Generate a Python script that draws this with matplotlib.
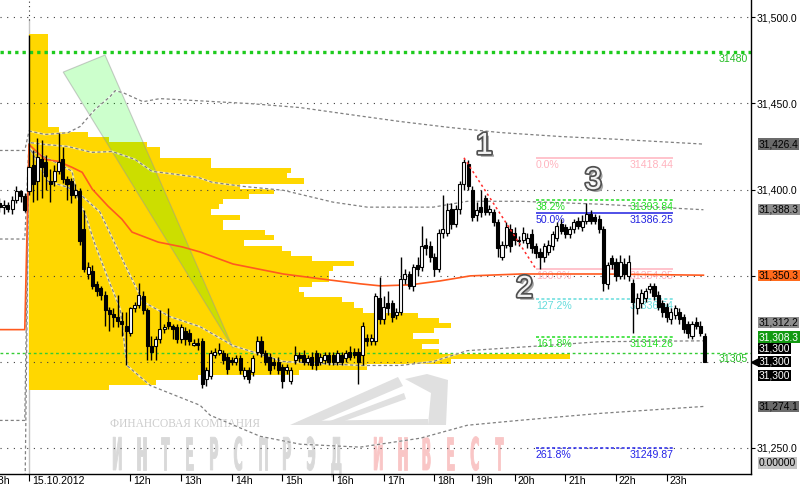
import numpy as np
import matplotlib
matplotlib.use("Agg")
import matplotlib.pyplot as plt
import matplotlib.patheffects as pe
from matplotlib import transforms
from matplotlib.patches import Polygon, PathPatch
from matplotlib.textpath import TextPath
from matplotlib.font_manager import FontProperties

plt.rcParams['font.family'] = ['Liberation Sans', 'DejaVu Sans']

# 5-minute candles, bar index -7 = last bars of previous session, 0 = 10:00 on 15.10.2012
first_bar = -7
opens = [31392, 31390, 31391, 31389, 31394, 31399, 31396,
         31399, 31414, 31405, 31418, 31416, 31405, 31405, 31411, 31418, 31406,
         31405, 31397, 31399, 31377, 31351, 31353, 31345, 31343, 31339, 31330,
         31328, 31326, 31324, 31321, 31317, 31331, 31333, 31338, 31330, 31309,
         31309, 31313, 31319, 31323, 31321, 31320, 31313, 31318, 31317, 31310,
         31311, 31312, 31290, 31292, 31304, 31305, 31305, 31303, 31301, 31300,
         31302, 31292, 31295, 31294, 31306, 31312, 31305, 31303, 31300, 31300,
         31297, 31295, 31289, 31301, 31304, 31304, 31300, 31303, 31305, 31300,
         31301, 31304, 31304, 31300, 31304, 31302, 31306, 31306, 31306, 31304,
         31314, 31312, 31312, 31337, 31325, 31334, 31334, 31327, 31329, 31348,
         31351, 31344, 31356, 31355, 31368, 31367, 31361, 31354, 31375, 31375,
         31389, 31380, 31389, 31403, 31415, 31400, 31385, 31390, 31395, 31387,
         31387, 31381, 31361, 31368, 31377, 31375, 31371, 31371, 31369, 31374,
         31367, 31364, 31361, 31364, 31367, 31372, 31380, 31378, 31374, 31377,
         31382, 31378, 31382, 31386, 31384, 31383, 31377, 31345, 31360, 31358,
         31350, 31357, 31350, 31346, 31331, 31334, 31337, 31342, 31344, 31339,
         31334, 31332, 31325, 31327, 31329, 31326, 31322, 31315, 31323, 31321,
         31315]
highs = [31395, 31394, 31393, 31396, 31402, 31400, 31398,
         31490, 31423, 31430, 31429, 31420, 31412, 31414, 31433, 31425, 31408,
         31407, 31403, 31401, 31388, 31358, 31356, 31347, 31344, 31341, 31332,
         31331, 31339, 31329, 31329, 31332, 31335, 31346, 31341, 31331, 31315,
         31315, 31330, 31322, 31331, 31322, 31322, 31322, 31320, 31319, 31313,
         31314, 31314, 31297, 31307, 31308, 31311, 31307, 31305, 31303, 31304,
         31304, 31297, 31297, 31304, 31315, 31315, 31307, 31305, 31302, 31303,
         31299, 31299, 31297, 31309, 31306, 31307, 31304, 31306, 31307, 31305,
         31306, 31306, 31306, 31307, 31306, 31307, 31309, 31308, 31308, 31323,
         31316, 31316, 31340, 31349, 31338, 31341, 31336, 31331, 31361, 31354,
         31353, 31357, 31361, 31379, 31372, 31370, 31363, 31377, 31397, 31392,
         31392, 31391, 31405, 31418, 31417, 31402, 31393, 31400, 31397, 31391,
         31389, 31383, 31370, 31381, 31380, 31378, 31373, 31378, 31375, 31377,
         31369, 31366, 31369, 31371, 31376, 31381, 31383, 31380, 31379, 31383,
         31384, 31385, 31392, 31388, 31386, 31385, 31379, 31358, 31362, 31360,
         31362, 31360, 31362, 31348, 31340, 31342, 31343, 31346, 31346, 31341,
         31336, 31334, 31331, 31333, 31331, 31328, 31324, 31324, 31326, 31324,
         31317]
lows = [31387, 31386, 31387, 31386, 31392, 31393, 31387,
        31397, 31393, 31394, 31395, 31400, 31393, 31402, 31409, 31404, 31394,
        31392, 31395, 31368, 31352, 31348, 31342, 31338, 31336, 31321, 31318,
        31320, 31320, 31315, 31298, 31315, 31329, 31331, 31328, 31301, 31301,
        31301, 31311, 31317, 31319, 31313, 31311, 31311, 31310, 31310, 31309,
        31307, 31285, 31286, 31290, 31302, 31304, 31299, 31293, 31298, 31298,
        31293, 31290, 31288, 31292, 31304, 31303, 31298, 31293, 31296, 31293,
        31285, 31293, 31287, 31299, 31300, 31298, 31298, 31296, 31295, 31298,
        31299, 31298, 31298, 31298, 31298, 31300, 31301, 31302, 31287, 31298,
        31309, 31310, 31310, 31322, 31322, 31327, 31323, 31325, 31327, 31345,
        31342, 31341, 31350, 31353, 31362, 31358, 31350, 31352, 31372, 31373,
        31377, 31378, 31386, 31400, 31400, 31382, 31382, 31384, 31385, 31385,
        31379, 31361, 31359, 31366, 31364, 31368, 31367, 31369, 31366, 31363,
        31360, 31354, 31358, 31362, 31365, 31370, 31374, 31372, 31372, 31375,
        31377, 31376, 31380, 31380, 31380, 31375, 31341, 31342, 31354, 31347,
        31348, 31348, 31347, 31317, 31328, 31331, 31335, 31340, 31336, 31330,
        31326, 31323, 31322, 31325, 31322, 31317, 31314, 31313, 31319, 31315,
        31300]
closes = [31390, 31391, 31389, 31394, 31399, 31396, 31388,
          31413, 31403, 31419, 31413, 31408, 31403, 31411, 31416, 31406, 31403,
          31397, 31400, 31370, 31354, 31355, 31344, 31341, 31339, 31330, 31328,
          31326, 31324, 31322, 31318, 31331, 31333, 31339, 31330, 31309, 31306,
          31313, 31319, 31320, 31321, 31319, 31313, 31320, 31313, 31312, 31311,
          31310, 31287, 31295, 31305, 31306, 31307, 31301, 31296, 31300, 31302,
          31295, 31295, 31290, 31302, 31312, 31305, 31300, 31295, 31298, 31295,
          31289, 31297, 31295, 31304, 31302, 31300, 31302, 31298, 31298, 31303,
          31304, 31300, 31300, 31305, 31300, 31305, 31303, 31304, 31300, 31321,
          31312, 31314, 31338, 31325, 31332, 31331, 31326, 31329, 31348, 31351,
          31344, 31355, 31354, 31367, 31366, 31361, 31354, 31375, 31377, 31388,
          31380, 31389, 31403, 31416, 31402, 31384, 31388, 31387, 31387, 31389,
          31381, 31366, 31368, 31378, 31367, 31371, 31370, 31375, 31372, 31366,
          31363, 31361, 31367, 31368, 31374, 31379, 31376, 31374, 31377, 31381,
          31379, 31382, 31386, 31382, 31382, 31377, 31346, 31356, 31357, 31350,
          31358, 31351, 31358, 31335, 31337, 31340, 31341, 31344, 31338, 31332,
          31329, 31326, 31329, 31331, 31325, 31319, 31317, 31322, 31321, 31317,
          31300]

hour_bars = [0, 24, 36, 48, 60, 72, 84, 96, 105, 115, 127, 139, 151]
hour_labels = ["15.10.2012", "12h", "13h", "14h", "15h", "16h", "17h",
               "18h", "19h", "20h", "21h", "22h", "23h"]
price_ticks = [31250, 31300, 31350, 31400, 31450, 31500]
price_tick_labels = ["31,250.0", "", "", "31,400.0", "31,450.0", "31,500.0"]

# session VWAP and deviation bands (readings at selected bars)
vwap_bars = [-7, -1, 0, 3.8, 6.9, 10.2, 12.6, 15, 18.7, 22, 24.4, 30.6, 36.3,
             40.5, 48.3, 60.2, 69, 78.4, 83.2, 90.3, 97.4, 104.5, 116.4, 135.3, 159.7]
vwap_prices = [31318.7, 31318.7, 31426.2, 31417.5, 31416.4, 31412.9, 31410, 31400.2,
               31390.4, 31382.8, 31375.3, 31369.5, 31366.7, 31363.8, 31356.8, 31351,
               31348.2, 31345.3, 31344.1, 31344.7, 31347, 31349.9, 31351, 31351, 31350.3]
upper2_bars = [-7, -1, 0, 3.8, 9.2, 12.1, 15.6, 19.2, 20.4, 22.3, 27, 31, 39.8,
               52.4, 64.2, 76.1, 87.9, 99.8, 111.6, 125.8, 140, 159.7]
upper2_prices = [31422.7, 31422.7, 31434, 31432, 31433, 31436.6, 31446.4, 31454,
                 31457.4, 31456.2, 31451, 31452.8, 31451.6, 31449.9, 31447.6,
                 31443.5, 31439.5, 31436, 31433.1, 31430.8, 31429.1, 31426.4]
upper1_bars = [-7, -1, 0, 3.8, 9.2, 14.9, 19.7, 25.1, 29.1, 34.6, 40, 43.4, 50.5,
               60.2, 72, 80.1, 95.7, 103.8, 116.4, 135.3, 159.7]
upper1_prices = [31371.3, 31371.3, 31427.3, 31426.2, 31425, 31421.6, 31422.1,
                 31417.5, 31410.6, 31408.9, 31407.1, 31404.2, 31401.9, 31399.6,
                 31392.7, 31389.8, 31389.8, 31393.2, 31393.2, 31391.5, 31388.3]
lower1_bars = [-7, -1, 0, 4.5, 9.2, 12.1, 16.8, 23.2, 27, 33.4, 40.5, 48.3, 60.2,
               78.4, 87.9, 95.7, 103.8, 118.7, 135.3, 159.7]
lower1_prices = [31266, 31266, 31425, 31404.8, 31401.3, 31397.3, 31386.9, 31353.9,
                 31334.9, 31326.2, 31320.4, 31309.4, 31300.2, 31297.9, 31297.9,
                 31300.2, 31306.5, 31308.9, 31311.7, 31312.2]
lower2_bars = [-7, -1, 0, 7.3, 10.2, 11.6, 13.3, 15.6, 19.2, 21.6, 23.2, 28.7, 40.5,
               42.9, 54.7, 64.2, 78.4, 92.7, 103.8, 116.4, 135.3, 159.7]
lower2_prices = [31214, 31214, 31423.3, 31414.6, 31410.6, 31394.4, 31385.7, 31368.4,
                 31345.3, 31330.8, 31297.9, 31286.3, 31274.8, 31269, 31256.8,
                 31252.2, 31250.5, 31255.7, 31263.2, 31266.1, 31270.1, 31274.1]

# volume profile, 3-point price levels from 31285 up, volume in bar widths
profile_prices = np.arange(31285, 31490, 3)
profile_volume = [19, 30, 40, 64, 80, 100, 128, 97, 93, 97, 91, 96, 100, 97, 92,
                  79, 77, 74, 65, 64, 67, 71, 71, 72, 77, 67, 62, 60, 51, 58,
                  56, 46, 46, 50, 43, 45, 46, 52, 58, 50, 65, 61, 62, 43, 43,
                  31, 31, 28, 19, 14, 7,
                  4.5, 4.5, 4.5, 4.5, 4.5, 4.5, 4.5, 4.5, 4.5,
                  4.5, 4.5, 4.5, 4.5, 4.5, 4.5, 4.5, 4.5, 4.5]

# fibonacci levels
fib_pcts = ["0.0%", "38.2%", "50.0%", "100.0%", "127.2%", "161.8%", "261.8%"]
fib_prices = [31418.44, 31393.84, 31386.25, 31354.05, 31336.54, 31314.26, 31249.87]
fib_colors = ['#ffb3be', '#22dd22', '#1f1fe0', '#ffb3be', '#66dcdc', '#22dd22', '#2424e8']
fib_styles = ['-', (0, (2, 1.5)), '-', '-', (0, (2, 1.5)), (0, (2, 1.5)), (0, (2, 1.5))]
fib_start, fib_end = 120, 152.6

trend_bars = [103, 120]
trend_prices = [31418.44, 31354.05]

wedge_bars = [8.1, 18.0, 48.3]
wedge_prices = [31468.2, 31478.1, 31308.0]

wave_labels = ["1", "2", "3"]
wave_bars = [107.8, 117.3, 133.6]
wave_prices = [31425.3, 31342.3, 31405.0]

box_texts = ["31,426.4", "31,388.3", "31,350.3", "31,312.2", "31,308.3",
             "31,300", "31,300", "31,300", "31,274.1"]
box_values = [31426.4, 31388.3, 31350.3, 31312.2, 31308.3, 31300, 31300, 31300, 31274.1]
box_faces = ['#6b6b6b', '#8e8e8e', '#ff6a1c', '#8e8e8e', '#129a12',
             '#000000', '#000000', '#000000', '#6b6b6b']
box_inks = ['black', 'black', 'black', 'black', 'white', 'white', 'white', 'white', 'black']
box_shift = [0, 0, 0, 18, 10.5, 13, 0, -14, 0]   # px, stacking of the labels

# ---- figure ----
fig = plt.figure(figsize=(8, 4.87), dpi=100)
fig.patch.set_facecolor('white')
ax = fig.add_axes([0, 13 / 487, 750.5 / 800, 474 / 487])
ax.set_facecolor('none')
ax.set_xlim(-6.87, 170.85)
ax.set_ylim(31234.9, 31510.04)

def px(dx, dy):
    return transforms.ScaledTranslation(dx / 100, dy / 100, fig.dpi_scale_trans)

for s in ['left', 'top']:
    ax.spines[s].set_visible(False)
for s in ['right', 'bottom']:
    ax.spines[s].set_linewidth(1)
    ax.spines[s].set_color('black')

# price axis
ax.yaxis.tick_right()
ax.set_yticks(price_ticks, labels=price_tick_labels)
ax.tick_params(axis='y', length=3, width=0.8, pad=1.5, labelsize=7.6, direction='out')
for p in price_ticks:
    ax.axhline(p, color='#404040', lw=0.8, ls=(0, (1, 5)), zorder=1.5)

# time axis
ax.set_xticks(hour_bars)
ax.tick_params(axis='x', length=5, width=0.8, direction='out', labelbottom=False)
xlab_tr = transforms.blended_transform_factory(ax.transData, ax.transAxes) + px(3, -2)
for b, lbl in zip(hour_bars, hour_labels):
    ax.text(b, 0, lbl, transform=xlab_tr, ha='left', va='top', fontsize=7.6, clip_on=False)
ax.text(-9.4, 0, "23h", transform=xlab_tr, ha='left', va='top', fontsize=7.6, clip_on=False)

# session separator
ax.axvline(0, ymin=0, ymax=0.958, color='#c4c4c4', lw=1, zorder=0.8)
ax.axvline(0, ymin=0.958, ymax=1, color='#333333', lw=0.8, ls=(0, (1, 3)), zorder=0.8)

# volume profile
ax.barh(profile_prices, profile_volume, height=3, left=0, color='#ffd700',
        linewidth=0, zorder=1)

# green wedge drawing
ax.add_patch(Polygon(list(zip(wedge_bars, wedge_prices)), closed=True,
                     facecolor=(0, 1, 0, 0.2), edgecolor=(0.6, 0.6, 0.6, 0.5),
                     lw=0.8, zorder=2))

# horizontal levels
ax.axhline(31480, color='#1ecb1e', lw=2.4, ls=(0, (1, 1.2)), zorder=2)
ax.axhline(31305, color='#33cc33', lw=1, ls=(0, (2, 2)), zorder=2)
lvl_tr = transforms.blended_transform_factory(ax.transAxes, ax.transData)
ax.text(1, 31480, "31480", transform=lvl_tr + px(-3, -2), ha='right', va='top',
        color='#22bb22', fontsize=7.6)
ax.text(1, 31305, "31305", transform=lvl_tr + px(-3, -1), ha='right', va='top',
        color='#22bb22', fontsize=7.6)

# deviation bands
for bb, pp in [(upper2_bars, upper2_prices), (upper1_bars, upper1_prices),
               (lower1_bars, lower1_prices), (lower2_bars, lower2_prices)]:
    ax.plot(bb, pp, color='white', lw=1.4, alpha=0.6, zorder=2.2)
    ax.plot(bb, pp, color='#808080', lw=0.9, ls=(0, (2.5, 2)), zorder=2.3)

ax.plot(vwap_bars, vwap_prices, color='#ff5a1f', lw=1.2, zorder=2.5)

# fibonacci
for pct, pr, col, st in zip(fib_pcts, fib_prices, fib_colors, fib_styles):
    ax.hlines(pr, fib_start, fib_end, color=col, lw=1.1, linestyles=[st], zorder=2.4)
    ax.text(fib_start, pr, pct, color=col, fontsize=7.6, ha='left', va='top',
            transform=ax.transData + px(0, -2), zorder=2.4)
    ax.text(fib_end, pr, f"{pr:.2f}", color=col, fontsize=7.6, ha='right', va='top',
            transform=ax.transData + px(0, -2), zorder=2.4)

# candles
o = np.array(opens, dtype=float)
h = np.array(highs, dtype=float)
l = np.array(lows, dtype=float)
c = np.array(closes, dtype=float)
x = np.arange(first_bar, first_bar + len(o))
ax.vlines(x, l, h, color='black', lw=1, zorder=3)
up = c >= o
ax.bar(x[up], c[up] - o[up], bottom=o[up], width=0.72, color='white',
       edgecolor='black', linewidth=0.8, zorder=3.1)
ax.bar(x[~up], o[~up] - c[~up], bottom=c[~up], width=0.72, color='black',
       edgecolor='black', linewidth=0.8, zorder=3.1)

ax.plot(trend_bars, trend_prices, color='#ff2a2a', lw=1.1, ls=(0, (1.5, 2)), zorder=3.5)

# wave numbers
for t, b, p in zip(wave_labels, wave_bars, wave_prices):
    ax.text(b, p, t, fontsize=22, color='#f2f2f2', ha='center', va='center', zorder=4,
            path_effects=[pe.SimplePatchShadow(offset=(2, -2), shadow_rgbFace='#9a9a9a', alpha=0.9),
                          pe.Stroke(linewidth=2.5, foreground='#505050'), pe.Normal()])

# right-hand value boxes
for t, v, fc, ink, sh in zip(box_texts, box_values, box_faces, box_inks, box_shift):
    ax.text(1, v, t, transform=lvl_tr + px(8.5, sh), ha='left', va='center',
            fontsize=7.4, color=ink, clip_on=False, zorder=10,
            bbox=dict(boxstyle='square,pad=0.06', fc=fc, ec='none'))
ax.plot([1], [31300], marker='<', ms=6, color='black', transform=lvl_tr + px(4.5, 0),
        clip_on=False, zorder=11)
ax.text(1, 0, "0.00000", transform=ax.transAxes + px(8.5, 11), ha='left', va='center',
        fontsize=7.4, color='black', clip_on=False, zorder=10,
        bbox=dict(boxstyle='square,pad=0.06', fc='#c3c3c3', ec='none'))

# watermark
fig.text(110 / 800, 1 - 424 / 487, "ФИНАНСОВАЯ КОМПАНИЯ", family='Liberation Serif',
         fontsize=8.3, color='#cccccc', va='center', ha='left', zorder=-1)
fp = FontProperties(family='DejaVu Sans', weight='bold')
for word, x0, col in [("ИНТЕРСПРЭД", 112, '#d9d9d9'), ("ИНВЕСТ", 373, '#f9c6c6')]:
    for k, ch in enumerate(word):
        path = TextPath((0, 0), ch, size=45, prop=fp)
        tr = transforms.Affine2D().scale(0.28, 1).translate(x0 + 24.3 * k, 487 - 470)
        fig.add_artist(PathPatch(path, transform=tr, fc=col, ec=col, lw=0.6, zorder=-1))
logo = [
    [(290, 425), (398, 377), (403, 386), (312, 425)],
    [(322, 424), (404, 393), (406, 399), (336, 424)],
    [(405, 379), (427, 374), (448, 380), (446, 425), (428, 425), (431, 393)],
    [(300, 421), (428, 419), (428, 425), (292, 425)],
]
for poly in logo:
    pts = [(a, 487 - b) for a, b in poly]
    fig.add_artist(Polygon(pts, closed=True, transform=transforms.IdentityTransform(),
                           fc='#e0e0e0', ec='none', zorder=-1))

fig.savefig('out.png', dpi=100)
